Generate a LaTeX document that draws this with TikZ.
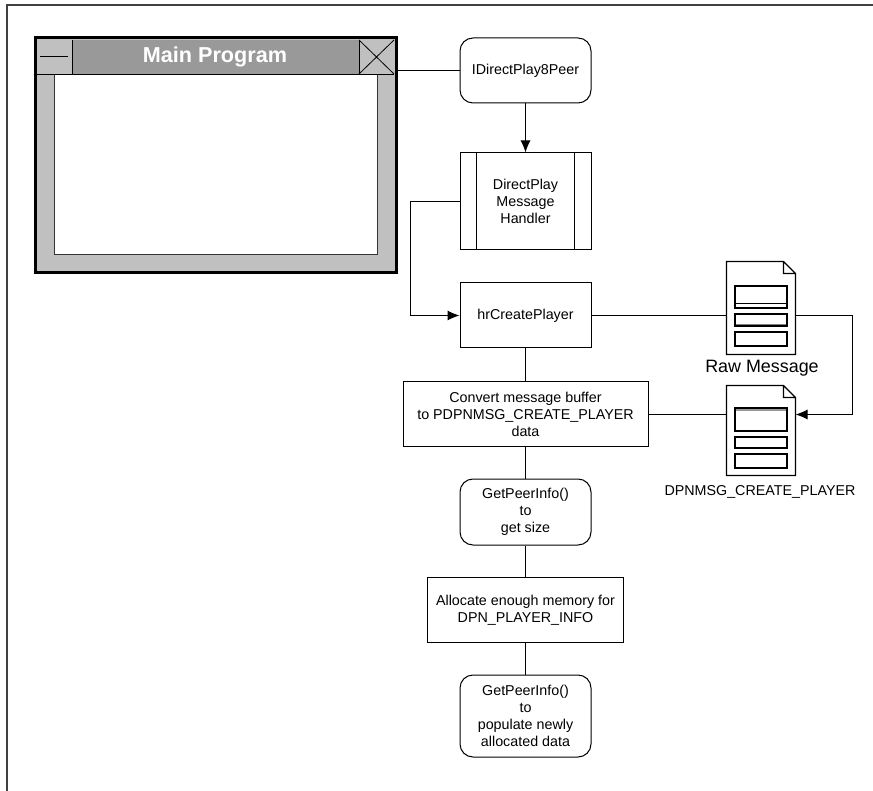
\documentclass[tikz,border=0pt]{standalone}
\usepackage{fontspec}
\setmainfont{Liberation Sans}
\usetikzlibrary{arrows.meta,positioning,calc}
\definecolor{wingray}{HTML}{C0C0C0}
\definecolor{bargray}{HTML}{999999}
\newcommand\bodyfont{\fontsize{14.3}{16.8}\selectfont}
\tikzset{every picture/.style={line width=1pt}}
\tikzset{
  flowbox/.style={draw, line width=1pt, rectangle, minimum width=131pt, minimum height=65pt, align=center, font=\bodyfont},
  roundbox/.style={flowbox, rounded corners=13pt},
  docnode/.style={rectangle, minimum width=68pt, inner sep=0pt},
  docrect/.style={draw, line width=1.2pt},
  flowarrow/.style={-{Latex[length=12pt,width=10pt]}},
}

\begin{document}
\begin{tikzpicture}[x=1pt, y=-1pt]
    \useasboundingbox (0,0) rectangle (873,791);
    % frame
    \draw[line width=2pt, black!75] (7,791) -- (7,5) -- (873,5);

    % main window
    \node[draw, line width=3pt, fill=wingray, minimum width=361pt, minimum height=235pt, inner sep=0pt] (mainwin) at (215.5,155.5) {};
    \fill[bargray] (72,40) rectangle (359,74);
    \draw[line width=0.8pt, black!80, fill=white] (54,74) rectangle (377,254);
    \draw[line width=0.8pt] (37,74) -- (394,74) (72,40) -- (72,74) (359,40) -- (359,74);
    \draw[line width=0.8pt] (359,40) -- (394,74) (359,74) -- (394,40);
    \draw[line width=0.8pt] (40,56) -- (68,56);
    \node[text=white, font=\bfseries\fontsize{21.6}{24}\selectfont] (title) at (215,57) {Main Program};

    % flow boxes
    \node[roundbox] (peer) at (525.5,70.5) {IDirectPlay8Peer};
    \node[flowbox, minimum height=97pt] (handler) at (525.5,201.5) {DirectPlay\\Message\\Handler};
    \draw ([xshift=17pt]handler.north west) -- ([xshift=17pt]handler.south west)
        ([xshift=-17pt]handler.north east) -- ([xshift=-17pt]handler.south east);
    \node[flowbox] (create) at (525.5,315.5) {hrCreatePlayer};
    \node[flowbox, minimum width=245pt] (convert) at (525.5,414.5) {Convert message buffer\\to PDPNMSG\_CREATE\_PLAYER\\data};
    \node[roundbox, minimum height=66pt] (getsize) at (525.5,512) {GetPeerInfo()\\to\\get size};
    \node[flowbox, minimum width=196pt] (alloc) at (525.5,610) {Allocate enough memory for\\DPN\_PLAYER\_INFO};
    \node[roundbox, minimum height=82pt] (populate) at (525.5,716) {GetPeerInfo()\\to\\populate newly\\allocated data};

    % documents
    \node[docnode, minimum height=92pt] (rawmsg) at (761,308) {};
    \node[docnode, minimum height=89pt] (dpnmsg) at (761,430.5) {};
    \foreach \d in {rawmsg,dpnmsg}
        \draw[line width=1.2pt, fill=white] (\d.south west) -- (\d.north west) -- ([xshift=-12pt]\d.north east)
            -- ([yshift=-12pt]\d.north east) -- (\d.south east) -- cycle
            ([xshift=-12pt]\d.north east) -- ([xshift=-12pt,yshift=-12pt]\d.north east) -- ([yshift=-12pt]\d.north east);
    \draw[docrect] (735,286) rectangle (787,308);
    \draw[line width=0.8pt] (735,303) -- (787,303);
    \draw[docrect] (735,314) rectangle (787,326);
    \draw[gray, line width=1.5pt] (736,324.3) -- (786,324.3);
    \draw[docrect] (735,332) rectangle (787,346);
    \fill[bargray] (735,408) rectangle (787,411.5);
    \draw[docrect] (735,408) rectangle (787,431);
    \draw[docrect] (735,437) rectangle (787,448);
    \draw[docrect] (735,454) rectangle (787,468);
    \node[font=\fontsize{17.9}{20}\selectfont] (rawlabel) at (762,368) {Raw Message};
    \node[font=\bodyfont] (dpnlabel) at (760,492) {DPNMSG\_CREATE\_PLAYER};

    % connectors
    \draw (mainwin.east |- peer.west) -- (peer.west);
    \draw[flowarrow] (peer) -- (handler);
    \draw[flowarrow] (handler.west) -- ++(-49,0) |- (create.west);
    \draw (create.east) -- (create.east -| rawmsg.west);
    \draw[flowarrow] (rawmsg.east |- create.east) -- ++(57,0) |- (dpnmsg.east |- convert.east);
    \draw (dpnmsg.west |- convert.east) -- (convert.east);
    \draw (create) -- (convert);
    \draw (convert) -- (getsize);
    \draw (getsize) -- (alloc);
    \draw (alloc) -- (populate);
\end{tikzpicture}
\end{document}
